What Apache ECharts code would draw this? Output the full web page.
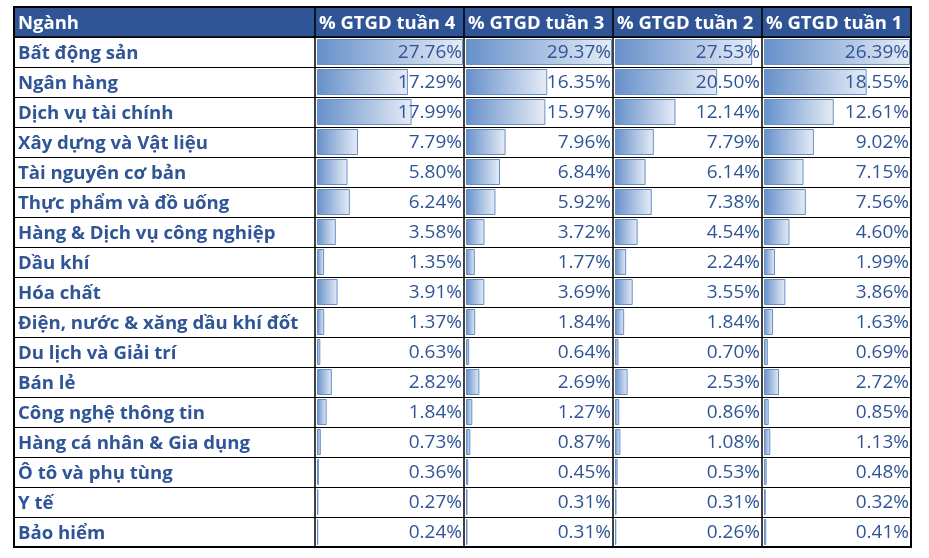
<!DOCTYPE html>
<html><head><meta charset="utf-8">
<script src="https://cdn.jsdelivr.net/npm/echarts@6/dist/echarts.min.js"></script>
<style>html,body{margin:0;padding:0;background:#fff}#c{width:929px;height:558px}</style>
</head><body><div id="c"></div>
<script>
const headers = ['Ngành', '% GTGD tuần 4', '% GTGD tuần 3', '% GTGD tuần 2', '% GTGD tuần 1'];
const sectors = ['Bất động sản','Ngân hàng','Dịch vụ tài chính','Xây dựng và Vật liệu','Tài nguyên cơ bản','Thực phẩm và đồ uống','Hàng & Dịch vụ công nghiệp','Dầu khí','Hóa chất','Điện, nước & xăng dầu khí đốt','Du lịch và Giải trí','Bán lẻ','Công nghệ thông tin','Hàng cá nhân & Gia dụng','Ô tô và phụ tùng','Y tế','Bảo hiểm'];
const week4 = [27.76,17.29,17.99,7.79,5.80,6.24,3.58,1.35,3.91,1.37,0.63,2.82,1.84,0.73,0.36,0.27,0.24];
const week3 = [29.37,16.35,15.97,7.96,6.84,5.92,3.72,1.77,3.69,1.84,0.64,2.69,1.27,0.87,0.45,0.31,0.31];
const week2 = [27.53,20.50,12.14,7.79,6.14,7.38,4.54,2.24,3.55,1.84,0.70,2.53,0.86,1.08,0.53,0.31,0.26];
const week1 = [26.39,18.55,12.61,9.02,7.15,7.56,4.60,1.99,3.86,1.63,0.69,2.72,0.85,1.13,0.48,0.32,0.41];
const barScaleMax = [27.76, 29.37, 29.3, 26.39];

const columns = [week4, week3, week2, week1];
const TEXT = '#2F5597', HEAD = '#2F5597', FONT = '"Open Sans", "Noto Sans", sans-serif';
const tableLeft = 14, tableTop = 7, headH = 30, rowH = 30;
const colLefts = [14, 315, 464, 613, 762], colW = 149, tableRight = 911;
const bodyTop = tableTop + headH, bodyH = rowH * sectors.length;

const grids = [{left: tableLeft, top: bodyTop, width: tableRight - tableLeft, height: bodyH}];
const xAxes = [{gridIndex: 0, type: 'value', show: false}];
const yAxes = [{gridIndex: 0, type: 'category', data: sectors, inverse: true,
  axisLine: {show: false}, axisTick: {show: false},
  splitLine: {show: true, lineStyle: {color: '#000', width: 1.2}},
  axisLabel: {inside: true, margin: 4, formatter: '{a|{value}}',
    rich: {a: {color: TEXT, fontWeight: 'bold', fontSize: 18.6, fontFamily: FONT, padding: [4, 0, 0, 0]}}}}];
const series = [];
columns.forEach((vals, i) => {
  const gi = i + 1;
  grids.push({left: colLefts[gi] + 2, top: bodyTop, width: colW - 3, height: bodyH});
  xAxes.push({gridIndex: gi, type: 'value', min: 0, max: barScaleMax[i], show: false});
  yAxes.push({gridIndex: gi, type: 'category', data: sectors, inverse: true, show: false});
  series.push({type: 'bar', xAxisIndex: gi, yAxisIndex: gi, data: vals, barWidth: 26, silent: true,
    itemStyle: {borderColor: '#6690CA', borderWidth: 1,
      color: {type: 'linear', x: 0, y: 0, x2: 1, y2: 0, colorStops: [
        {offset: 0, color: '#6690CA'}, {offset: 1, color: '#E6ECF6'}]}}});
  series.push({type: 'bar', xAxisIndex: gi, yAxisIndex: gi, barGap: '-100%', barWidth: 26, silent: true,
    data: vals.map(() => barScaleMax[i]), itemStyle: {color: 'rgba(0,0,0,0)'},
    label: {show: true, position: 'insideRight', distance: 1, offset: [0, 1], color: TEXT, fontSize: 19, fontFamily: FONT,
      formatter: p => vals[p.dataIndex].toFixed(2) + '%'}});
});

const graphic = [
  {type: 'rect', shape: {x: tableLeft, y: tableTop, width: tableRight - tableLeft, height: headH}, style: {fill: HEAD}, z: 0},
];
headers.forEach((h, i) => graphic.push({type: 'text', x: colLefts[i] + 4, y: tableTop + headH / 2 + 2,
  style: {text: h, fill: '#fff', font: 'bold 18.5px ' + FONT, textVerticalAlign: 'middle'}, z: 10}));
colLefts.slice(1).forEach(x => graphic.push({type: 'line', shape: {x1: x, y1: tableTop, x2: x, y2: bodyTop + bodyH},
  style: {stroke: '#000', lineWidth: 1.5}, z: 20}));
graphic.push({type: 'line', shape: {x1: tableLeft, y1: bodyTop, x2: tableRight, y2: bodyTop}, style: {stroke: '#000', lineWidth: 1.5}, z: 20});
graphic.push({type: 'rect', shape: {x: tableLeft, y: tableTop, width: tableRight - tableLeft, height: headH + bodyH},
  style: {fill: 'none', stroke: '#000', lineWidth: 2}, z: 20});

const chart = echarts.init(document.getElementById('c'));
chart.setOption({animation: false, grid: grids, xAxis: xAxes, yAxis: yAxes, series, graphic});
</script></body></html>
